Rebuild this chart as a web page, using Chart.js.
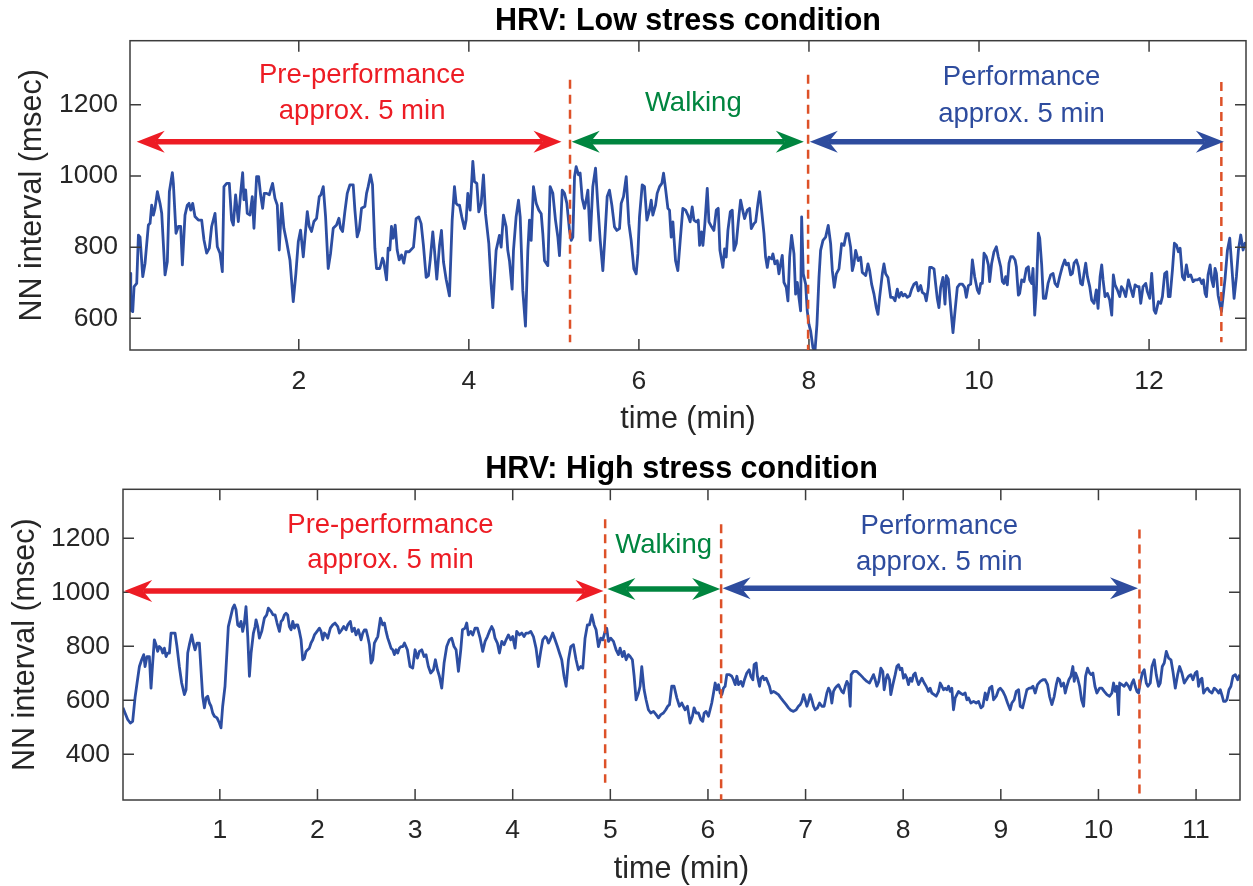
<!DOCTYPE html>
<html>
<head>
<meta charset="utf-8">
<script src="https://cdn.jsdelivr.net/npm/chart.js@4.4.1/dist/chart.umd.min.js"></script>
<style>
  html, body { margin: 0; padding: 0; background: #fff; overflow: hidden; }
  canvas { position: absolute; left: 0; }
  #low { top: 0; }
  #high { top: 444px; }
</style>
</head>
<body>
<canvas id="low" width="1253" height="440"></canvas>
<canvas id="high" width="1253" height="444"></canvas>
<script>
// ---- low stress condition (time in min, NN interval in msec) ----
const lowTime = [
  0.015, 0.024, 0.047, 0.063, 0.094, 0.114, 0.133, 0.165, 0.192, 0.231, 0.251, 0.270, 0.290, 0.309, 0.337, 0.368, 0.388, 0.427, 0.454, 0.478,
  0.513, 0.525, 0.556, 0.584, 0.611, 0.631, 0.662, 0.689, 0.709, 0.729, 0.752, 0.779, 0.819, 0.858, 0.885, 0.917, 0.948, 0.975, 1.015, 1.042,
  1.073, 1.101, 1.120, 1.152, 1.183, 1.210, 1.230, 1.257, 1.289, 1.316, 1.340, 1.355, 1.375, 1.394, 1.426, 1.453, 1.473, 1.504, 1.528, 1.551,
  1.575, 1.594, 1.622, 1.653, 1.669, 1.692, 1.720, 1.747, 1.770, 1.798, 1.825, 1.857, 1.896, 1.935, 1.966, 1.994, 2.021, 2.053, 2.072, 2.100,
  2.123, 2.150, 2.178, 2.209, 2.241, 2.260, 2.288, 2.315, 2.346, 2.374, 2.405, 2.444, 2.472, 2.491, 2.515, 2.542, 2.570, 2.601, 2.640, 2.660,
  2.687, 2.711, 2.738, 2.777, 2.797, 2.816, 2.844, 2.867, 2.895, 2.914, 2.953, 2.985, 3.000, 3.032, 3.051, 3.071, 3.090, 3.110, 3.134, 3.157,
  3.181, 3.208, 3.235, 3.259, 3.298,
  3.349, 3.380, 3.411, 3.439, 3.466, 3.498, 3.525, 3.545, 3.576, 3.596, 3.623, 3.655, 3.678, 3.702, 3.733, 3.772, 3.804, 3.831, 3.851, 3.870,
  3.890, 3.917, 3.949, 3.968, 3.988, 4.015, 4.047, 4.066, 4.094, 4.117, 4.145, 4.172, 4.196, 4.235, 4.262, 4.282, 4.302, 4.321, 4.360, 4.380,
  4.407, 4.439, 4.458, 4.478, 4.509, 4.525, 4.556, 4.584, 4.604, 4.635, 4.666, 4.694, 4.713, 4.733, 4.760, 4.792, 4.823, 4.851, 4.870, 4.890,
  4.929, 4.956, 4.988, 5.019, 5.047, 5.066, 5.098, 5.125, 5.153, 5.184, 5.204, 5.223, 5.243, 5.262, 5.290, 5.309, 5.333, 5.360, 5.380, 5.400,
  5.427, 5.458, 5.490, 5.517, 5.545, 5.576, 5.600, 5.627, 5.654, 5.682, 5.713, 5.741, 5.772, 5.792, 5.819, 5.851, 5.882, 5.909, 5.941, 5.968,
  5.988, 6.007, 6.039, 6.066, 6.094, 6.125, 6.145, 6.164, 6.196, 6.215, 6.243, 6.270, 6.290, 6.313, 6.341, 6.360, 6.380, 6.400, 6.431, 6.458,
  6.486, 6.517, 6.549, 6.576, 6.603,
  6.627, 6.647, 6.675, 6.698, 6.714, 6.737, 6.753, 6.776, 6.804, 6.824, 6.855, 6.882, 6.910, 6.933, 6.953, 6.988, 7.008, 7.027, 7.047, 7.075,
  7.098, 7.118, 7.145, 7.169, 7.196, 7.216, 7.243, 7.275, 7.302, 7.322, 7.353, 7.373, 7.400, 7.420, 7.443, 7.471, 7.490, 7.510, 7.529, 7.561,
  7.576, 7.600, 7.627, 7.647, 7.667, 7.686, 7.706, 7.733, 7.753, 7.773, 7.796, 7.824, 7.843, 7.863, 7.882, 7.902, 7.914, 7.933, 7.961, 7.980,
  8.000, 8.020, 8.047, 8.071, 8.094, 8.118, 8.137, 8.165, 8.196, 8.227, 8.255, 8.275, 8.298, 8.322, 8.353, 8.384, 8.412, 8.439, 8.463, 8.490,
  8.510, 8.529, 8.549, 8.580, 8.608, 8.627, 8.647, 8.667, 8.694, 8.714, 8.737, 8.765, 8.792, 8.812, 8.831, 8.863, 8.882, 8.902, 8.929, 8.961,
  8.988, 9.012, 9.039, 9.059, 9.086, 9.106, 9.129, 9.157, 9.184, 9.208, 9.235, 9.263, 9.286, 9.314, 9.333, 9.361, 9.380, 9.404, 9.420, 9.443,
  9.471, 9.490, 9.510, 9.529, 9.549, 9.576, 9.600, 9.616, 9.639, 9.667, 9.694, 9.718, 9.745, 9.773, 9.804, 9.831, 9.851, 9.875, 9.902,
  9.922, 9.949, 9.980, 10.000, 10.020, 10.039, 10.059, 10.086, 10.110, 10.125, 10.149, 10.176, 10.204, 10.227, 10.255, 10.275, 10.294, 10.314, 10.333, 10.353,
  10.373, 10.400, 10.424, 10.439, 10.463, 10.478, 10.502, 10.529, 10.557, 10.580, 10.596, 10.620, 10.635, 10.655, 10.675, 10.698, 10.714, 10.737, 10.757, 10.784,
  10.812, 10.843, 10.871, 10.894, 10.922, 10.949, 10.980, 11.008, 11.027, 11.051, 11.078, 11.098, 11.118, 11.145, 11.169, 11.196, 11.216, 11.235, 11.255, 11.275,
  11.302, 11.325, 11.353, 11.380, 11.400, 11.424, 11.443, 11.459, 11.482, 11.510, 11.537, 11.561, 11.580, 11.600, 11.627, 11.655, 11.675, 11.698, 11.725, 11.757,
  11.784, 11.812, 11.835, 11.863, 11.882, 11.902, 11.929, 11.961, 11.980, 12.008, 12.031, 12.059, 12.078, 12.110, 12.137, 12.157, 12.184, 12.208, 12.227, 12.247,
  12.275, 12.298, 12.322, 12.345, 12.365, 12.392, 12.416, 12.439, 12.463, 12.490, 12.518, 12.541, 12.569, 12.596, 12.620, 12.639, 12.659, 12.675, 12.694, 12.718,
  12.737, 12.757, 12.776, 12.792, 12.812, 12.831, 12.851, 12.871, 12.894, 12.922, 12.949, 12.973, 13.000, 13.027, 13.051, 13.078, 13.106, 13.129, 13.157
];
const lowNN = [
  726, 623, 619, 689, 698, 834, 828, 717, 755, 862, 867, 918, 890, 909, 956, 923, 895, 722, 759, 956,
  1009, 979, 839, 858, 858, 750, 890, 918, 923, 904, 923, 886, 876, 876, 820, 783, 797, 858, 895, 801,
  783, 731, 970, 979, 979, 876, 862, 947, 872, 951, 1009, 933, 961, 895, 890, 942, 853, 998, 998, 947,
  909, 951, 951, 947, 961, 979, 937, 918, 792, 923, 853, 815, 764, 647, 726, 815, 848, 773, 825, 900,
  858, 844, 872, 881, 942, 947, 970, 886, 740, 783, 853, 862, 881, 853, 844, 900, 951, 975, 975, 904,
  829, 848, 909, 914, 951, 970, 1003, 975, 797, 740, 740, 769, 759, 708, 797, 792, 858, 825, 862, 792,
  764, 778, 755, 787, 787,
  800, 880, 885, 866, 805, 715, 720, 762, 843, 791, 710, 805, 847, 758, 710, 663, 876, 970, 923, 918,
  918, 885, 852, 876, 951, 904, 1041, 984, 979, 899, 923, 1003, 894, 810, 696, 630, 715, 791, 833, 800,
  890, 857, 791, 762, 682, 791, 885, 932, 885, 677, 578, 791, 876, 819, 970, 923, 904, 894, 838, 762,
  748, 970, 951, 876, 828, 776, 960, 951, 923, 847, 819, 828, 998, 1026, 1003, 1008, 937, 909, 932, 960,
  819, 970, 1022, 918, 819, 734, 828, 942, 960, 918, 857, 847, 852, 923, 942, 998, 866, 819, 739, 725,
  781, 885, 975, 970, 876, 904, 932, 890, 918, 951, 970, 979, 1008, 965, 909, 904, 828, 871, 762, 734,
  819, 909, 904, 890, 871,
  913, 876, 871, 876, 805, 843, 805, 866, 965, 871, 857, 847, 904, 909, 791, 743, 795, 772, 847, 899,
  904, 791, 810, 871, 932, 909, 880, 904, 909, 852, 866, 871, 923, 956, 904, 838, 772, 743, 772, 767,
  781, 753, 762, 725, 753, 777, 701, 687, 649, 772, 833, 781, 668, 701, 659, 621, 885, 725, 696, 621,
  583, 564, 517, 508, 583, 715, 791, 819, 828, 861, 810, 734, 687, 725, 739, 810, 805, 838, 838, 800,
  734, 753, 791, 762, 772, 729, 725, 720, 753, 734, 696, 668, 630, 611, 659, 725, 753, 725, 715, 659,
  659, 649, 682, 659, 673, 663, 668, 659, 663, 682, 696, 701, 677, 692, 673, 668, 649, 687, 743, 743,
  739, 696, 654, 630, 687, 715, 640, 720, 710, 630, 560, 621, 687, 696, 696, 687, 659, 692, 696,
  764, 717, 680, 670, 698, 698, 783, 773, 750, 703, 755, 787, 801, 773, 745, 703, 698, 717, 694, 755,
  773, 773, 764, 745, 665, 670, 708, 703, 740, 745, 708, 698, 740, 609, 680, 839, 825, 750, 656, 656,
  698, 722, 726, 698, 689, 717, 745, 764, 750, 755, 722, 726, 755, 764, 745, 698, 694, 726, 755, 717,
  689, 651, 642, 680, 628, 717, 750, 708, 661, 670, 651, 609, 722, 694, 680, 661, 689, 680, 661, 708,
  684, 661, 694, 689, 689, 642, 689, 698, 675, 656, 726, 623, 614, 647, 642, 661, 726, 731, 661, 661,
  736, 811, 806, 787, 797, 717, 708, 750, 717, 722, 703, 708, 708, 712, 698, 708, 670, 661, 722, 750,
  708, 689, 740, 726, 665, 642, 619, 661, 712, 792, 825, 745, 656, 717, 792, 834, 792, 811, 806
];

// ---- high stress condition ----
const highTime = [
  0.008, 0.029, 0.056, 0.083, 0.107, 0.131, 0.152, 0.176, 0.199, 0.220, 0.234, 0.254, 0.278, 0.295, 0.312, 0.329, 0.346, 0.363, 0.380, 0.398,
  0.415, 0.432, 0.449, 0.466, 0.483, 0.500, 0.524, 0.541, 0.561, 0.585, 0.609, 0.637, 0.654, 0.671, 0.688, 0.712, 0.732, 0.746, 0.766, 0.790,
  0.807, 0.824, 0.842, 0.859, 0.876, 0.893, 0.910, 0.927, 0.944, 0.971, 0.995, 1.012, 1.029, 1.053, 1.074, 1.087, 1.108, 1.132, 1.149, 1.166,
  1.183, 1.200, 1.217, 1.234, 1.251, 1.268, 1.286, 1.303, 1.320, 1.344, 1.361, 1.371, 1.388, 1.405, 1.429, 1.456, 1.480, 1.497, 1.525, 1.545,
  1.566, 1.586, 1.610, 1.627, 1.644, 1.661, 1.678, 1.695, 1.712, 1.730, 1.747, 1.764, 1.781, 1.798, 1.815, 1.832, 1.849, 1.866, 1.883, 1.900,
  1.917, 1.934, 1.952, 1.969, 1.996, 2.020, 2.037, 2.054, 2.071, 2.088, 2.105, 2.132, 2.156, 2.180, 2.208, 2.225, 2.249, 2.269, 2.293, 2.310,
  2.337, 2.355, 2.378, 2.395, 2.419, 2.447, 2.464, 2.481, 2.498, 2.515, 2.532, 2.549, 2.566, 2.583, 2.600, 2.618, 2.645, 2.669, 2.686, 2.703,
  2.720, 2.737, 2.754, 2.771, 2.788, 2.805, 2.822, 2.839, 2.857, 2.874, 2.891,
  2.921, 2.948, 2.976, 3.000, 3.024, 3.044, 3.068, 3.092, 3.112, 3.136, 3.160, 3.188, 3.208, 3.229, 3.249, 3.273, 3.297, 3.324, 3.351, 3.375,
  3.399, 3.420, 3.444, 3.468, 3.485, 3.512, 3.529, 3.546, 3.570, 3.591, 3.614, 3.638, 3.666, 3.693, 3.717, 3.741, 3.761, 3.785, 3.802, 3.819,
  3.843, 3.864, 3.888, 3.912, 3.932, 3.956, 3.980, 4.000, 4.024, 4.041, 4.069, 4.093, 4.116, 4.137, 4.161, 4.185, 4.212, 4.239, 4.263, 4.287,
  4.308, 4.332, 4.349, 4.366, 4.383, 4.410, 4.434, 4.458, 4.479, 4.502, 4.526, 4.547, 4.571, 4.595, 4.622, 4.649, 4.673, 4.697, 4.718, 4.741,
  4.765, 4.786, 4.810, 4.834, 4.854, 4.878, 4.902, 4.923, 4.946, 4.963, 4.981, 5.004, 5.032, 5.059, 5.083, 5.100, 5.124, 5.141, 5.162, 5.185,
  5.203, 5.226, 5.244, 5.264, 5.288, 5.305, 5.322, 5.346, 5.366, 5.390, 5.414, 5.442, 5.469, 5.493, 5.517, 5.544, 5.568, 5.588, 5.606, 5.629,
  5.653, 5.681, 5.708, 5.732,
  5.766, 5.790, 5.817, 5.841, 5.858, 5.879, 5.903, 5.927, 5.947, 5.961, 5.981, 6.005, 6.022, 6.039, 6.057, 6.074, 6.091, 6.108, 6.125, 6.142,
  6.159, 6.176, 6.193, 6.220, 6.244, 6.261, 6.279, 6.296, 6.313, 6.337, 6.357, 6.374, 6.398, 6.422, 6.439, 6.460, 6.473, 6.494, 6.507, 6.528,
  6.542, 6.562, 6.576, 6.596, 6.610, 6.630, 6.647, 6.671, 6.699, 6.722, 6.746, 6.774, 6.801, 6.825, 6.849, 6.876, 6.904, 6.927, 6.945, 6.962,
  6.979, 6.996, 7.013, 7.030, 7.047, 7.064, 7.081, 7.098, 7.122, 7.143, 7.167, 7.190, 7.218, 7.235, 7.252, 7.269, 7.286, 7.303, 7.320, 7.337,
  7.354, 7.371, 7.388, 7.406, 7.423, 7.440, 7.457, 7.467, 7.491, 7.525, 7.559, 7.593, 7.628, 7.655, 7.679, 7.696, 7.713, 7.730, 7.750, 7.771,
  7.791, 7.805, 7.826, 7.839, 7.860, 7.873, 7.894, 7.918, 7.935, 7.952, 7.969, 7.986, 8.003, 8.020, 8.037, 8.054, 8.072, 8.089, 8.106, 8.123,
  8.140, 8.157, 8.174, 8.191, 8.215, 8.235, 8.259, 8.276, 8.293, 8.317, 8.338, 8.362, 8.379, 8.396, 8.413, 8.430, 8.447, 8.464, 8.481, 8.498,
  8.515, 8.533, 8.550, 8.567,
  8.584, 8.611, 8.635, 8.652, 8.669, 8.693, 8.721, 8.748, 8.772, 8.796, 8.816, 8.840, 8.857, 8.885, 8.908, 8.926, 8.953, 8.977, 8.994, 9.021,
  9.045, 9.069, 9.096, 9.113, 9.137, 9.158, 9.182, 9.199, 9.223, 9.243, 9.267, 9.291, 9.308, 9.329, 9.352, 9.376, 9.404, 9.431, 9.455, 9.479,
  9.499, 9.523, 9.547, 9.568, 9.585, 9.602, 9.619, 9.643, 9.660, 9.677, 9.697, 9.718, 9.738, 9.752, 9.766, 9.786, 9.807, 9.827, 9.848, 9.868,
  9.889, 9.909, 9.926, 9.943, 9.964, 9.984, 10.012, 10.035, 10.059, 10.087, 10.114, 10.138, 10.155, 10.172, 10.189, 10.206, 10.217, 10.240, 10.264, 10.285,
  10.309, 10.326, 10.343, 10.360, 10.377, 10.394, 10.411, 10.428, 10.449, 10.469, 10.490, 10.507, 10.531, 10.548, 10.572, 10.592, 10.616, 10.633, 10.654, 10.674,
  10.695, 10.719, 10.743, 10.763, 10.787, 10.811, 10.831, 10.855, 10.879, 10.900, 10.923, 10.947, 10.968, 10.992, 11.009, 11.026, 11.043, 11.060, 11.077, 11.098,
  11.118, 11.139, 11.163, 11.186, 11.207, 11.231, 11.248, 11.268, 11.282, 11.299, 11.316, 11.337, 11.357, 11.378, 11.402, 11.426, 11.446
];
const highNN = [
  572, 553, 529, 516, 522, 609, 664, 725, 750, 769, 725, 762, 762, 645, 738, 824, 806, 781, 799, 793,
  775, 793, 762, 775, 775, 849, 849, 849, 799, 725, 664, 621, 639, 775, 806, 842, 806, 787, 812, 812,
  713, 615, 572, 609, 615, 590, 578, 553, 541, 535, 516, 498, 578, 652, 787, 873, 904, 941, 953, 935,
  879, 873, 892, 855, 886, 947, 836, 689, 775, 849, 873, 898, 873, 830, 855, 904, 916, 941, 929, 916,
  916, 886, 855, 892, 898, 916, 922, 916, 873, 861, 892, 867, 879, 879, 855, 824, 750, 756, 781, 787,
  793, 812, 824, 842, 855, 867, 855, 824, 849, 842, 830, 867, 879, 886, 873, 849, 861, 873, 861, 879,
  892, 855, 867, 842, 861, 824, 849, 861, 861, 836, 806, 738, 750, 812, 824, 836, 904, 879, 886, 855,
  830, 812, 793, 787, 769, 787, 775, 793, 799, 799, 812,
  787, 725, 719, 787, 756, 781, 787, 762, 769, 725, 701, 713, 750, 713, 689, 645, 738, 799, 824, 830,
  799, 787, 707, 787, 861, 867, 886, 842, 855, 842, 867, 867, 830, 781, 818, 836, 855, 873, 861, 830,
  812, 775, 818, 806, 824, 842, 824, 836, 793, 855, 842, 849, 836, 849, 849, 855, 836, 793, 725, 781,
  824, 836, 830, 812, 824, 849, 824, 799, 775, 750, 689, 652, 750, 799, 806, 750, 713, 725, 719, 830,
  879, 879, 916, 879, 861, 799, 830, 824, 855, 867, 818, 830, 818, 787, 769, 793, 762, 781, 750, 769,
  762, 750, 689, 602, 627, 652, 725, 639, 602, 565, 553, 559, 547, 535, 547, 553, 565, 578, 584, 652,
  652, 609, 578, 590,
  565, 578, 516, 541, 572, 553, 553, 529, 522, 553, 559, 541, 565, 590, 627, 664, 639, 658, 627, 621,
  645, 652, 695, 695, 689, 676, 658, 689, 658, 670, 652, 676, 701, 713, 689, 676, 732, 738, 689, 652,
  682, 689, 676, 682, 670, 652, 627, 633, 627, 621, 609, 596, 584, 572, 563, 559, 565, 578, 584, 596,
  621, 602, 578, 596, 621, 602, 578, 565, 572, 590, 578, 578, 627, 645, 633, 590, 633, 645, 652, 658,
  645, 633, 627, 652, 670, 658, 578, 695, 707, 707, 695, 682, 670, 664, 682, 695, 676, 652, 670, 719,
  707, 639, 682, 695, 676, 621, 658, 695, 725, 732, 713, 719, 682, 695, 682, 658, 682, 670, 695, 701,
  676, 658, 670, 682, 664, 652, 633, 645, 627, 621, 615, 633, 664, 652, 639, 645, 639, 652, 633, 645,
  565, 609, 621, 633,
  627, 621, 627, 602, 609, 590, 596, 590, 596, 572, 578, 627, 602, 645, 652, 602, 615, 639, 645, 633,
  615, 590, 565, 590, 602, 633, 639, 578, 572, 602, 639, 645, 645, 652, 627, 658, 670, 676, 676, 658,
  615, 584, 615, 658, 682, 676, 652, 664, 627, 652, 676, 689, 725, 670, 701, 682, 652, 602, 578, 689,
  719, 701, 695, 701, 652, 627, 645, 645, 633, 621, 615, 627, 664, 633, 652, 547, 664, 658, 652, 664,
  652, 639, 664, 676, 652, 633, 627, 664, 701, 713, 664, 652, 664, 725, 750, 695, 652, 664, 725, 738,
  781, 756, 750, 707, 645, 695, 725, 701, 664, 676, 689, 695, 676, 701, 707, 652, 676, 682, 627, 639,
  645, 633, 627, 645, 639, 627, 639, 615, 596, 596, 602, 639, 652, 689, 695, 676, 695
];

// axes
const lowXTicks = [2, 4, 6, 8, 10, 12];
const lowYTicks = [600, 800, 1000, 1200];
const highXTicks = [1, 2, 3, 4, 5, 6, 7, 8, 9, 10, 11];
const highYTicks = [400, 600, 800, 1000, 1200];

// phase markers (dashed lines): time, upper end, lower end
const lowMarkTime = [5.19, 7.99, 12.85];
const lowMarkTop = [1270, 1284, 1264];
const lowMarkBottom = [533, 511, 533];
const highMarkTime = [4.947, 6.135, 10.42];
const highMarkTop = [1270, 1252, 1232];
const highMarkBottom = [295, 231, 246];

// phase arrows: start, end, level
const lowArrowStart = [0.094, 5.21, 8.01];
const lowArrowEnd = [5.09, 7.94, 12.88];
const lowArrowLevel = [1096, 1096, 1096];
const highArrowStart = [0.02, 4.97, 6.15];
const highArrowEnd = [4.93, 6.125, 10.405];
const highArrowLevel = [1005, 1012, 1015];

// phase labels
const phaseLabels = [["Pre-performance", "approx. 5 min"], ["Walking"], ["Performance", "approx. 5 min"]];
const lowLabelTime = [2.745, 6.64, 10.5];
const lowLabelLevel = [[1283, 1181], [1203], [1276, 1173]];
const highLabelTime = [2.748, 5.546, 8.37];
const highLabelLevel = [[1247, 1117], [1174], [1244, 1111]];

const phaseColors = ["#ED1C24", "#00853F", "#2E4C9E"];
const lineColor = "#2D4EA2";
const markColor = "#DD5128";
const axisColor = "#3c3c3c";
const FONT = '"Liberation Sans", Arial, Helvetica, sans-serif';

Chart.defaults.font.family = FONT;

const makeOverlay = (cfg) => ({
  id: "overlay",
  afterDatasetsDraw(chart) {
    const { ctx, chartArea: a } = chart;
    const x = chart.scales.x, y = chart.scales.y;
    ctx.save();

    // box and inward ticks
    ctx.strokeStyle = axisColor;
    ctx.lineWidth = 1.5;
    ctx.setLineDash([]);
    ctx.strokeRect(a.left, a.top, a.right - a.left, a.bottom - a.top);
    ctx.beginPath();
    x.ticks.forEach((tk) => {
      const px = x.getPixelForValue(tk.value);
      ctx.moveTo(px, a.bottom); ctx.lineTo(px, a.bottom - 11);
      ctx.moveTo(px, a.top); ctx.lineTo(px, a.top + 11);
    });
    y.ticks.forEach((tk) => {
      const py = y.getPixelForValue(tk.value);
      ctx.moveTo(a.left, py); ctx.lineTo(a.left + 11, py);
      ctx.moveTo(a.right, py); ctx.lineTo(a.right - 11, py);
    });
    ctx.stroke();

    // dashed phase boundaries
    ctx.strokeStyle = markColor;
    ctx.lineWidth = 2.5;
    ctx.setLineDash([9, 6]);
    cfg.markTime.forEach((t, i) => {
      const px = x.getPixelForValue(t);
      ctx.beginPath();
      ctx.moveTo(px, Math.max(y.getPixelForValue(cfg.markTop[i]), a.top));
      ctx.lineTo(px, Math.min(y.getPixelForValue(cfg.markBottom[i]), a.bottom));
      ctx.stroke();
    });
    ctx.setLineDash([]);

    // double arrows
    const head = (tip, py, dir) => {
      ctx.beginPath();
      ctx.moveTo(tip, py);
      ctx.lineTo(tip + dir * 28, py - 11);
      ctx.lineTo(tip + dir * 19, py);
      ctx.lineTo(tip + dir * 28, py + 11);
      ctx.closePath();
      ctx.fill();
    };
    cfg.arrowStart.forEach((t, i) => {
      const x1 = x.getPixelForValue(t), x2 = x.getPixelForValue(cfg.arrowEnd[i]);
      const py = y.getPixelForValue(cfg.arrowLevel[i]);
      ctx.strokeStyle = phaseColors[i];
      ctx.fillStyle = phaseColors[i];
      ctx.lineWidth = 5.5;
      ctx.beginPath();
      ctx.moveTo(x1 + 19, py);
      ctx.lineTo(x2 - 19, py);
      ctx.stroke();
      head(x1, py, 1);
      head(x2, py, -1);
    });

    // phase labels
    ctx.font = "27.5px " + FONT;
    ctx.textAlign = "center";
    ctx.textBaseline = "middle";
    phaseLabels.forEach((lines, i) => {
      ctx.fillStyle = phaseColors[i];
      lines.forEach((txt, j) => {
        ctx.fillText(txt, x.getPixelForValue(cfg.labelTime[i]), y.getPixelForValue(cfg.labelLevel[i][j]));
      });
    });

    // title, centred over the plot box like the original
    ctx.fillStyle = "#000";
    ctx.font = "bold 30.5px " + FONT;
    ctx.fillText(cfg.title, (a.left + a.right) / 2, cfg.titleY);
    ctx.restore();
  },
});

const buildChart = (id, p) => {
  const points = p.time.map((t, i) => ({ x: t, y: p.nn[i] }));
  return new Chart(document.getElementById(id), {
    type: "line",
    data: {
      datasets: [{
        data: points,
        borderColor: lineColor,
        borderWidth: 2.8,
        pointRadius: 0,
        tension: 0,
        fill: false,
        borderJoinStyle: "round",
      }],
    },
    plugins: [makeOverlay(p)],
    options: {
      responsive: false,
      devicePixelRatio: 1,
      animation: false,
      events: [],
      layout: { padding: { left: 0, right: p.padRight, top: p.padTop, bottom: 0 } },
      plugins: {
        legend: { display: false },
        tooltip: { enabled: false },
        title: { display: false },
      },
      scales: {
        x: {
          type: "linear",
          min: p.xMin,
          max: p.xMax,
          grid: { display: false, drawTicks: false },
          border: { display: false },
          afterBuildTicks: (s) => { s.ticks = p.xTicks.map((v) => ({ value: v })); },
          afterFit: (s) => { s.height = p.xHeight; },
          ticks: {
            color: "#262626",
            font: { size: 26.5 },
            padding: p.xTickPad,
            maxRotation: 0,
            autoSkip: false,
            callback: (v) => String(v),
          },
          title: {
            display: true,
            text: "time (min)",
            color: "#262626",
            font: { size: 30.5 },
            padding: { top: 0, bottom: p.xTitlePad },
          },
        },
        y: {
          min: p.yMin,
          max: p.yMax,
          grid: { display: false, drawTicks: false },
          border: { display: false },
          afterBuildTicks: (s) => { s.ticks = p.yTicks.map((v) => ({ value: v })); },
          afterFit: (s) => { s.width = p.yWidth; },
          ticks: {
            color: "#262626",
            font: { size: 26.5 },
            padding: p.yTickPad,
            callback: (v) => String(v),
          },
          title: {
            display: true,
            text: "NN interval (msec)",
            color: "#262626",
            font: { size: 30.5 },
            padding: { top: p.yTitlePad, bottom: 0 },
          },
        },
      },
    },
  });
};

buildChart("low", {
  title: "HRV: Low stress condition",
  time: lowTime, nn: lowNN,
  xMin: 0.015, xMax: 13.14, yMin: 511, yMax: 1380,
  xTicks: lowXTicks, yTicks: lowYTicks,
  markTime: lowMarkTime, markTop: lowMarkTop, markBottom: lowMarkBottom,
  arrowStart: lowArrowStart, arrowEnd: lowArrowEnd, arrowLevel: lowArrowLevel,
  labelTime: lowLabelTime, labelLevel: lowLabelLevel,
  padRight: 7, padTop: 40.7, titleY: 21.2,
  xHeight: 90, xTickPad: 16, xTitlePad: 2,
  yWidth: 130, yTickPad: 12, yTitlePad: 14,
});

buildChart("high", {
  title: "HRV: High stress condition",
  time: highTime, nn: highNN,
  xMin: 0.008, xMax: 11.45, yMin: 231, yMax: 1381,
  xTicks: highXTicks, yTicks: highYTicks,
  markTime: highMarkTime, markTop: highMarkTop, markBottom: highMarkBottom,
  arrowStart: highArrowStart, arrowEnd: highArrowEnd, arrowLevel: highArrowLevel,
  labelTime: highLabelTime, labelLevel: highLabelLevel,
  padRight: 13, padTop: 45.3, titleY: 25.3,
  xHeight: 88, xTickPad: 15, xTitlePad: 0,
  yWidth: 123, yTickPad: 13, yTitlePad: 7,
});
</script>
</body>
</html>
